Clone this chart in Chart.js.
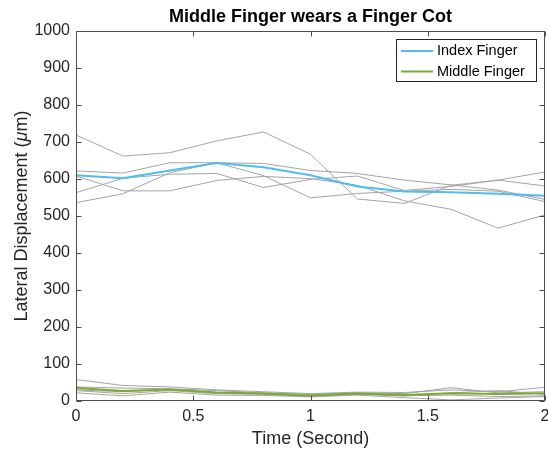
<!DOCTYPE html>
<html>
<head>
<meta charset="utf-8">
<script src="https://cdn.jsdelivr.net/npm/chart.js@4"></script>
<style>
  body { margin: 0; background: #fff; }
  canvas { display: block; }
</style>
</head>
<body>
<canvas id="chart" width="548" height="450"></canvas>
<script>
// time points (s)
const times = [0, 0.2, 0.4, 0.6, 0.8, 1.0, 1.2, 1.4, 1.6, 1.8, 2.0];

// index finger: individual trials + mean
const indexTrials = [
    [719, 662, 671, 703, 727, 667, 546, 534, 583, 597, 619],
    [622, 616, 644, 644, 642, 623, 615, 597, 584, 570, 545],
    [608, 568, 568, 596, 607, 601, 583, 541, 518, 467, 503],
    [563, 602, 613, 615, 577, 599, 608, 569, 580, 597, 581],
    [536, 560, 617, 644, 609, 549, 561, 567, 572, 567, 539]
];
const indexMean = [610, 602, 623, 643, 632, 610, 580, 566, 564, 560, 555];

// middle finger (with cot): individual trials + mean
const middleTrials = [
    [58, 42, 38, 30, 25, 20, 24, 23, 30, 25, 37],
    [38, 35, 33, 28, 22, 18, 22, 20, 36, 22, 25],
    [30, 25, 32, 22, 20, 14, 20, 14, 22, 28, 18],
    [28, 20, 28, 20, 18, 12, 18, 14, 16, 12, 14],
    [22, 14, 24, 16, 15, 11, 16, 9, 3, 8, 12]
];
const middleMean = [35, 27, 31, 23, 20, 15, 20, 16, 21, 19, 21];

const xTicks = [0, 0.5, 1, 1.5, 2];
const yTicks = [0, 100, 200, 300, 400, 500, 600, 700, 800, 900, 1000];

const FONT = '"Liberation Sans", Arial, Helvetica, sans-serif';
const TEXT = '#262626';
const BLUE = '#4DBEEE';
const GREEN = '#77AC30';
const GRAY = '#a4a4a4';

const pts = vals => vals.map((v, i) => ({ x: times[i], y: v }));

const datasets = [];
indexTrials.concat(middleTrials).forEach(t => {
    datasets.push({ data: pts(t), borderColor: GRAY, borderWidth: 1, pointRadius: 0, order: 1 });
});
datasets.push({ label: 'Index Finger', data: pts(indexMean), borderColor: BLUE, borderWidth: 2, pointRadius: 0, order: 0 });
datasets.push({ label: 'Middle Finger', data: pts(middleMean), borderColor: GREEN, borderWidth: 2, pointRadius: 0, order: 0 });

// box, inward ticks, title, y label and legend in matlab style
const matlabAxes = {
    id: 'matlabAxes',
    afterDraw(chart) {
        const ctx = chart.ctx;
        const a = chart.chartArea;
        const xs = chart.scales.x, ys = chart.scales.y;
        const L = Math.round(a.left) + 0.5, R = Math.round(a.right) - 0.5;
        const T = Math.round(a.top) + 0.5, B = Math.round(a.bottom) - 0.5;
        ctx.save();
        ctx.strokeStyle = '#4d4d4d';
        ctx.lineWidth = 1;
        ctx.strokeRect(L, T, R - L, B - T);
        ctx.beginPath();
        xTicks.forEach(v => {
            const px = Math.round(xs.getPixelForValue(v)) + 0.5;
            ctx.moveTo(px, B); ctx.lineTo(px, B - 5);
            ctx.moveTo(px, T); ctx.lineTo(px, T + 5);
        });
        yTicks.forEach(v => {
            const py = Math.round(ys.getPixelForValue(v)) + 0.5;
            ctx.moveTo(L, py); ctx.lineTo(L + 5, py);
            ctx.moveTo(R, py); ctx.lineTo(R - 5, py);
        });
        ctx.stroke();

        // title
        ctx.fillStyle = '#000';
        ctx.font = 'bold 18px ' + FONT;
        ctx.textAlign = 'center';
        ctx.textBaseline = 'middle';
        ctx.fillText('Middle Finger wears a Finger Cot', (a.left + a.right) / 2, 17);

        // y axis label with italic mu
        ctx.fillStyle = TEXT;
        const f1 = '18px ' + FONT, f2 = 'italic 18px ' + FONT;
        const parts = [['Lateral Displacement (', f1], ['\u03bc', f2], ['m)', f1]];
        let w = 0;
        parts.forEach(p => { ctx.font = p[1]; w += ctx.measureText(p[0]).width; });
        ctx.translate(22, (a.top + a.bottom) / 2);
        ctx.rotate(-Math.PI / 2);
        ctx.textAlign = 'left';
        let x = -w / 2;
        parts.forEach(p => { ctx.font = p[1]; ctx.fillText(p[0], x, 0); x += ctx.measureText(p[0]).width; });
        ctx.setTransform(1, 0, 0, 1, 0, 0);

        // legend
        const lx = 396.5, ly = 39.5, lw = 140, lh = 42;
        ctx.fillStyle = '#fff';
        ctx.fillRect(lx, ly, lw, lh);
        ctx.strokeStyle = '#262626';
        ctx.strokeRect(lx, ly, lw, lh);
        ctx.font = '14.5px ' + FONT;
        ctx.textAlign = 'left';
        ctx.textBaseline = 'middle';
        [['Index Finger', BLUE, 51], ['Middle Finger', GREEN, 71.5]].forEach(e => {
            ctx.strokeStyle = e[1];
            ctx.lineWidth = 2;
            ctx.beginPath();
            ctx.moveTo(401, e[2]); ctx.lineTo(433, e[2]);
            ctx.stroke();
            ctx.fillStyle = '#000';
            ctx.fillText(e[0], 437, e[2]);
        });
        ctx.restore();
    }
};

new Chart(document.getElementById('chart').getContext('2d'), {
    type: 'line',
    data: { datasets: datasets },
    options: {
        responsive: false,
        animation: false,
        devicePixelRatio: 1,
        layout: { padding: { left: 0, right: 3, top: 31, bottom: 0 } },
        plugins: { legend: { display: false }, title: { display: false }, tooltip: { enabled: false } },
        scales: {
            x: {
                type: 'linear', min: 0, max: 2,
                afterFit: s => { s.height = 49; s.paddingLeft = 0; s.paddingRight = 0; },
                afterBuildTicks: s => { s.ticks = xTicks.map(v => ({ value: v })); },
                grid: { display: false, drawTicks: false },
                border: { display: false },
                ticks: { color: TEXT, padding: 6, font: { family: FONT, size: 16 }, maxRotation: 0, callback: v => String(v) },
                title: { display: true, text: 'Time (Second)', color: TEXT, font: { family: FONT, size: 18 }, padding: { top: 0, bottom: 0 } }
            },
            y: {
                min: 0, max: 1000,
                afterFit: s => { s.width = 76; s.paddingTop = 0; s.paddingBottom = 0; },
                afterBuildTicks: s => { s.ticks = yTicks.map(v => ({ value: v })); },
                grid: { display: false, drawTicks: false },
                border: { display: false },
                ticks: { color: TEXT, padding: 6, font: { family: FONT, size: 16 }, callback: v => String(v) }
            }
        }
    },
    plugins: [matlabAxes]
});
</script>
</body>
</html>
